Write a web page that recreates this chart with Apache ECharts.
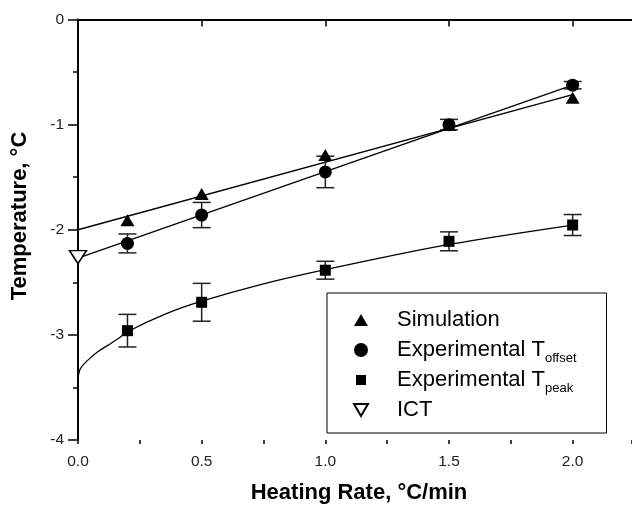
<!DOCTYPE html>
<html lang="en">
<head>
    <meta charset="UTF-8">
    <title>Temperature vs heating rate</title>
    <script src="https://cdn.jsdelivr.net/npm/echarts@6/dist/echarts.min.js"></script>
    <style>
        html, body { margin: 0; padding: 0; background: #fff; }
    </style>
</head>
<body>
<div id="demo" style="width: 632px;height: 509px;"></div>
</body>
</html>
<script>
    // heating rates, °C/min
    var rates = [0.2, 0.5, 1.0, 1.5, 2.0];
    // simulation points
    var simTemp = [-1.91, -1.66, -1.29, -1.0, -0.745];
    // experimental T offset with error
    var offsetTemp = [-2.13, -1.86, -1.45, -1.0, -0.625];
    var offsetErr = [0.09, 0.12, 0.15, 0.05, 0.035];
    // experimental T peak with error
    var peakTemp = [-2.96, -2.69, -2.385, -2.11, -1.955];
    var peakErr = [0.155, 0.18, 0.085, 0.09, 0.1];
    // ICT point
    var ictRate = [0.0];
    var ictTemp = [-2.26];
    // fitted lines
    var simFitX = [0.0, 2.0];
    var simFitY = [-2.0, -0.715];
    var offsetFitX = [0.0, 2.0];
    var offsetFitY = [-2.27, -0.625];
    var peakFitX = [0.0, 0.01, 0.04, 0.08, 0.12, 0.16, 0.2, 0.35, 0.5, 0.75, 1.0, 1.5, 2.0];
    var peakFitY = [-3.41, -3.32, -3.24, -3.16, -3.1, -3.04, -2.97, -2.805, -2.68, -2.515, -2.38, -2.14, -1.955];
    var xTicks = [0, 2.24, 0.5, 0.25];
    var yTicks = [-4, 0, 1];

    function pairs(xs, ys) {
        var out = [];
        for (var i = 0; i < xs.length; i++) out.push([xs[i], ys[i]]);
        return out;
    }
    function triples(xs, ys, es) {
        var out = [];
        for (var i = 0; i < xs.length; i++) out.push([xs[i], ys[i], es[i]]);
        return out;
    }

    function errorBar(params, api) {
        var x = api.value(0), y = api.value(1), e = api.value(2);
        var top = api.coord([x, y + e]);
        var bot = api.coord([x, y - e]);
        var hw = 9;
        var st = { stroke: '#222', lineWidth: 1.5 };
        return {
            type: 'group',
            children: [
                { type: 'line', shape: { x1: top[0], y1: top[1], x2: bot[0], y2: bot[1] }, style: st },
                { type: 'line', shape: { x1: top[0] - hw, y1: top[1], x2: top[0] + hw, y2: top[1] }, style: st },
                { type: 'line', shape: { x1: bot[0] - hw, y1: bot[1], x2: bot[0] + hw, y2: bot[1] }, style: st }
            ]
        };
    }

    var subs = { 'Experimental Toffset': 'offset', 'Experimental Tpeak': 'peak' };
    var fitLine = { color: '#000', width: 1.3 };

    var myChart = echarts.init(document.getElementById('demo'));
    var option = {
        animation: false,
        textStyle: { fontFamily: '"Liberation Sans", Arial, sans-serif' },
        grid: { left: 78, right: 0, top: 19.5, bottom: 65.5 },
        legend: {
            orient: 'vertical',
            left: 327,
            top: 293,
            padding: [12, 30, 8, 25],
            itemWidth: 62,
            itemHeight: 14,
            itemGap: 0,
            borderColor: '#000',
            borderWidth: 1,
            data: [
                { name: 'Simulation', icon: 'path://M0,0M8,1L15,13L1,13ZM16,14' },
                { name: 'Experimental Toffset', icon: 'circle' },
                { name: 'Experimental Tpeak', icon: 'path://M0,0M3,2L13,2L13,12L3,12ZM16,14' },
                { name: 'ICT', icon: 'path://M0,0M1,1L15,1L8,13ZM16,14' }
            ],
            formatter: function (name) {
                return subs[name] ? 'Experimental T{sub|' + subs[name] + '}' : name;
            },
            textStyle: {
                color: '#000',
                fontSize: 22,
                lineHeight: 30,
                rich: {
                    sub: { fontSize: 13, lineHeight: 2, verticalAlign: 'bottom', color: '#000' }
                }
            }
        },
        xAxis: [
            {
                type: 'value',
                position: 'bottom',
                min: xTicks[0],
                max: xTicks[1],
                interval: xTicks[2],
                name: 'Heating Rate, °C/min',
                nameLocation: 'middle',
                nameGap: 42,
                nameTextStyle: { fontSize: 22, fontWeight: 'bold', color: '#000', padding: [0, 0, 0, 8] },
                axisLine: { lineStyle: { color: '#000', width: 2 } },
                axisTick: { length: 7, lineStyle: { color: '#000', width: 1.5 } },
                minorTick: { show: false },
                splitLine: { show: false },
                axisLabel: {
                    margin: 14, fontSize: 15.5, color: '#222',
                    showMaxLabel: false,
                    formatter: function (v) { return v.toFixed(1); }
                }
            },
            {
                // short ticks every 0.25
                type: 'value',
                position: 'bottom',
                offset: 0,
                min: xTicks[0],
                max: xTicks[1],
                interval: xTicks[3],
                axisLine: { show: false },
                axisTick: { length: 4, lineStyle: { color: '#000', width: 1.5 } },
                minorTick: { show: false },
                axisLabel: { show: false },
                splitLine: { show: false }
            }
        ],
        yAxis: {
            type: 'value',
            min: yTicks[0],
            max: yTicks[1],
            interval: yTicks[2],
            axisLine: { lineStyle: { color: '#000', width: 2 } },
            axisTick: { length: 10, lineStyle: { color: '#000', width: 1.5 } },
            minorTick: { show: true, splitNumber: 2, length: 5, lineStyle: { color: '#000', width: 1.5 } },
            splitLine: { show: false },
            axisLabel: { margin: 14, fontSize: 15.5, color: '#222' }
        },
        graphic: [
            {
                type: 'text',
                x: 20,
                y: 216,
                rotation: Math.PI / 2,
                style: {
                    text: 'Temperature, °C',
                    font: 'bold 22px "Liberation Sans", Arial, sans-serif',
                    fill: '#000',
                    align: 'center',
                    verticalAlign: 'middle',
                    textAlign: 'center',
                    textVerticalAlign: 'middle'
                }
            }
        ],
        series: [
            {
                name: 'sim fit', type: 'line', data: pairs(simFitX, simFitY),
                symbol: 'none', lineStyle: fitLine, z: 1,
                // top frame line at 0 °C
                markLine: {
                    silent: true,
                    symbol: 'none',
                    label: { show: false },
                    lineStyle: { color: '#000', width: 2, type: 'solid' },
                    data: [{ yAxis: yTicks[1] }]
                }
            },
            {
                name: 'offset fit', type: 'line', data: pairs(offsetFitX, offsetFitY),
                symbol: 'none', lineStyle: fitLine, z: 1
            },
            {
                name: 'peak fit', type: 'line', data: pairs(peakFitX, peakFitY),
                symbol: 'none', smooth: 0.3, lineStyle: fitLine, z: 1
            },
            {
                name: 'offset err', type: 'custom', renderItem: errorBar,
                data: triples(rates, offsetTemp, offsetErr), z: 2
            },
            {
                name: 'peak err', type: 'custom', renderItem: errorBar,
                data: triples(rates, peakTemp, peakErr), z: 2
            },
            {
                name: 'Simulation', type: 'scatter', data: pairs(rates, simTemp),
                symbol: 'triangle', symbolSize: [14, 12],
                itemStyle: { color: '#000', opacity: 1 }, z: 3
            },
            {
                name: 'Experimental Toffset', type: 'scatter', data: pairs(rates, offsetTemp),
                symbol: 'circle', symbolSize: 13,
                itemStyle: { color: '#000', opacity: 1 }, z: 3
            },
            {
                name: 'Experimental Tpeak', type: 'scatter', data: pairs(rates, peakTemp),
                symbol: 'rect', symbolSize: 11,
                itemStyle: { color: '#000', opacity: 1 }, z: 3
            },
            {
                name: 'ICT', type: 'scatter', data: pairs(ictRate, ictTemp),
                symbol: 'triangle', symbolRotate: 180, symbolSize: [17, 13],
                itemStyle: { color: '#fff', borderColor: '#000', borderWidth: 1.5, opacity: 1 }, z: 4
            }
        ]
    };
    myChart.setOption(option);
</script>
